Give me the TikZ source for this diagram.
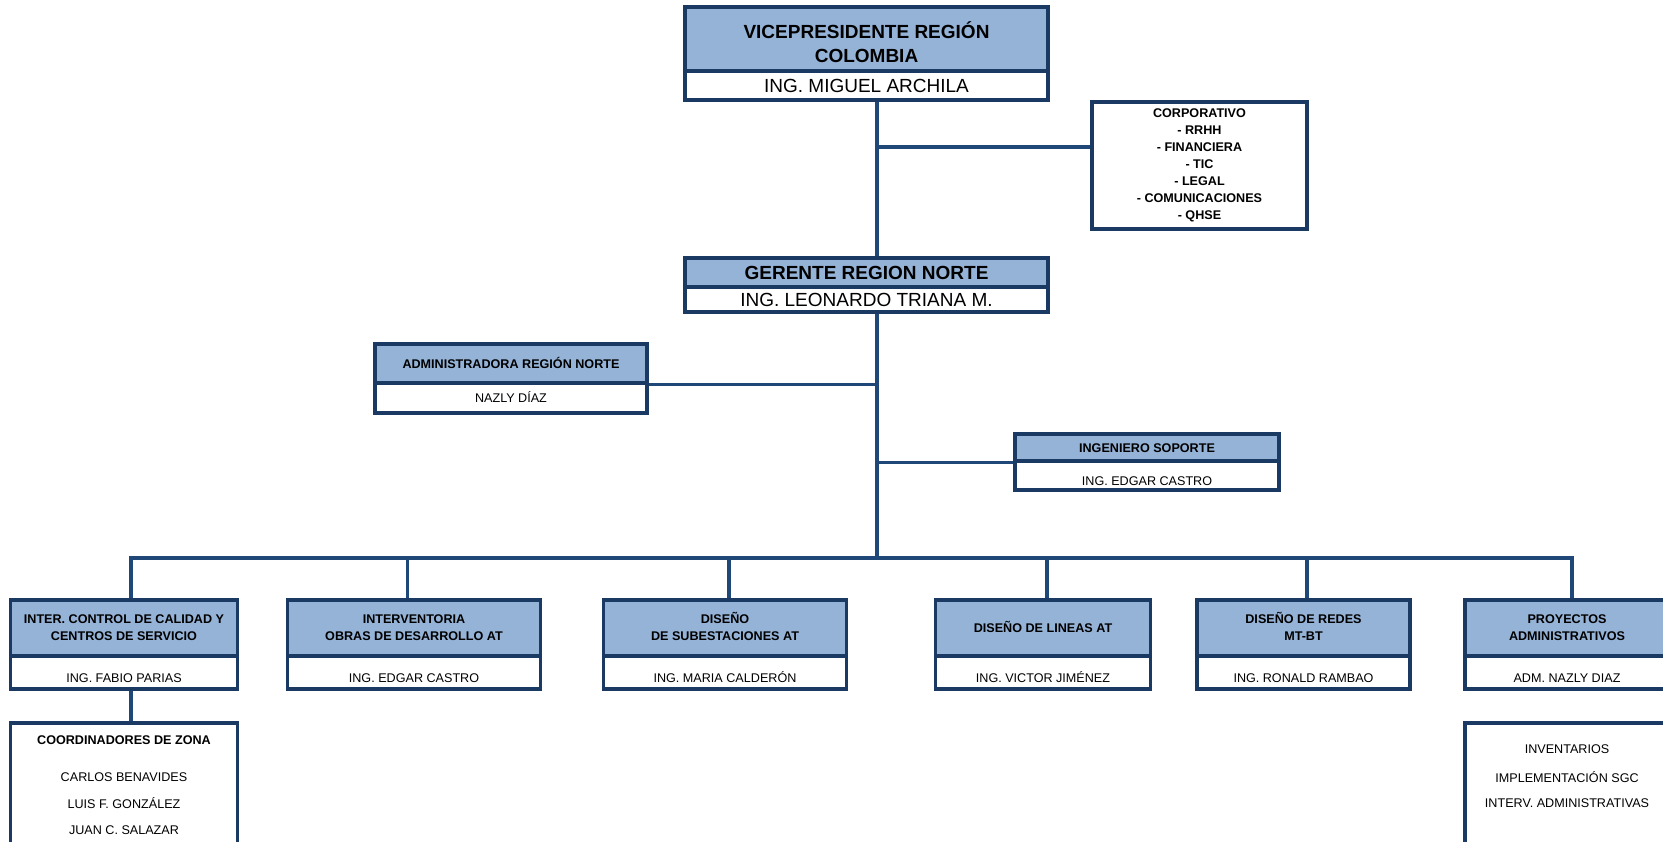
\documentclass[tikz,border=0pt]{standalone}
\usepackage{fontspec}
\setmainfont{Liberation Sans}
\definecolor{boxline}{HTML}{1A3A64}
\definecolor{linkline}{HTML}{1F4778}
\definecolor{headfill}{HTML}{95B3D7}
\tikzset{
  box/.style={draw=boxline, line width=3.2pt, inner sep=0pt, align=center},
  head/.style={box, fill=headfill},
  plain/.style={box, fill=white},
  bigr/.style={font=\fontsize{19}{24.4}\selectfont},
  bigb/.style={font=\bfseries\fontsize{19}{24.4}\selectfont},
  smr/.style={font=\fontsize{12.6}{17}\selectfont},
  smb/.style={font=\bfseries\fontsize{12.6}{17}\selectfont},
  capbig/.style={text height=13.6pt, text depth=0pt},
  capsm/.style={text height=9pt, text depth=0pt},
  lowsm/.style={text height=19pt, text depth=0pt},
  link/.style={draw=linkline, line width=3.2pt},
  txt/.style={inner sep=0pt, align=center},
}
\begin{document}
\begin{tikzpicture}[x=1pt,y=-1pt]
\clip (0,0) rectangle (1663,841);
\fill[white] (0,0) rectangle (1663,841);

% --- vice president
\node[head, minimum width=363pt, minimum height=64pt] (vph) at (866.5,39) {};
\node[txt, bigb] (vpt) at (866.5,44) {VICEPRESIDENTE REGI\smash{Ó}N\\COLOMBIA};
\node[plain, bigr, capbig, minimum width=363pt, minimum height=29pt] (vpn) at (866.5,85.5) {ING. MIGUEL ARCHILA};

% --- corporate services
\node[plain, smb, minimum width=215pt, minimum height=127pt] (corp) at (1199.5,165.5)
  {CORPORATIVO\\- RRHH\\- FINANCIERA\\- TIC\\- LEGAL\\- COMUNICACIONES\\- QHSE};

% --- regional manager
\node[head, bigb, capbig, minimum width=363pt, minimum height=29pt] (gh) at (866.5,272.5) {GERENTE REGION NORTE};
\node[plain, bigr, capbig, minimum width=363pt, minimum height=25pt] (gn) at (866.5,299.5) {ING. LEONARDO TRIANA M.};

% --- administration
\node[head, smb, capsm, minimum width=272pt, minimum height=39pt] (adh) at (511,363.5) {ADMINISTRADORA REGIÓN NORTE};
\node[plain, smr, capsm, minimum width=272pt, minimum height=30pt] (adn) at (511,398) {NAZLY DÍAZ};

% --- support engineer
\node[head, smb, capsm, minimum width=264pt, minimum height=27pt] (sph) at (1147,447.5) {INGENIERO SOPORTE};
\node[plain, smr, lowsm, minimum width=264pt, minimum height=29pt] (spn) at (1147,475.5) {ING. EDGAR CASTRO};

% --- departments
\node[head, smb, minimum width=227pt, minimum height=56pt] (b1h) at (124,628) {INTER. CONTROL DE CALIDAD Y\\CENTROS DE SERVICIO};
\node[plain, smr, lowsm, minimum width=227pt, minimum height=33pt] (b1n) at (124,672.5) {ING. FABIO PARIAS};

\node[head, smb, minimum width=253pt, minimum height=56pt] (b2h) at (414,628) {INTERVENTORIA\\OBRAS DE DESARROLLO AT};
\node[plain, smr, lowsm, minimum width=253pt, minimum height=33pt] (b2n) at (414,672.5) {ING. EDGAR CASTRO};

\node[head, smb, minimum width=243pt, minimum height=56pt] (b3h) at (725,628) {DISE\smash{Ñ}O\\DE SUBESTACIONES AT};
\node[plain, smr, lowsm, minimum width=243pt, minimum height=33pt] (b3n) at (725,672.5) {ING. MARIA CALDERÓN};

\node[head, smb, capsm, minimum width=215pt, minimum height=56pt] (b4h) at (1043,628) {DISEÑO DE LINEAS AT};
\node[plain, smr, lowsm, minimum width=215pt, minimum height=33pt] (b4n) at (1043,672.5) {ING. VICTOR JIMÉNEZ};

\node[head, smb, minimum width=213pt, minimum height=56pt] (b5h) at (1303.5,628) {DISE\smash{Ñ}O DE REDES\\MT-BT};
\node[plain, smr, lowsm, minimum width=213pt, minimum height=33pt] (b5n) at (1303.5,672.5) {ING. RONALD RAMBAO};

\node[head, smb, minimum width=204pt, minimum height=56pt] (b6h) at (1567,628) {PROYECTOS\\ADMINISTRATIVOS};
\node[plain, smr, lowsm, minimum width=204pt, minimum height=33pt] (b6n) at (1567,672.5) {ADM. NAZLY DIAZ};

% --- zone coordinators
\node[plain, minimum width=227pt, minimum height=160pt] (coord) at (124,803) {};
\node[txt, smb] (coordt) at (124,740) {COORDINADORES DE ZONA};
\node[txt, smr] (coord1) at (124,777.5) {CARLOS BENAVIDES};
\node[txt, smr] (coord2) at (124,803) {LUIS F. GONZÁLEZ};
\node[txt, smr] (coord3) at (124,830.5) {JUAN C. SALAZAR};

% --- administrative tasks
\node[plain, minimum width=204pt, minimum height=160pt] (tasks) at (1567,803) {};
\node[txt, smr] (task1) at (1567,749) {INVENTARIOS};
\node[txt, smr] (task2) at (1567,777.5) {IMPLEMENTACIÓN SGC};
\node[txt, smr] (task3) at (1567,803) {INTERV. ADMINISTRATIVAS};

% --- connectors
\coordinate (trunk) at (877,0);
\coordinate (corpj) at (877,147);
\coordinate (drop1) at (131,558);
\coordinate (drop2) at (407.5,558);
\coordinate (drop3) at (729,558);
\coordinate (drop4) at (1047,558);
\coordinate (drop5) at (1307,558);
\coordinate (drop6) at (1572,558);

\draw[link] (vpn.south -| trunk) -- (gh.north -| trunk);
\draw[link] (corpj) -- (corpj -| corp.west);
\draw[link] (gn.south -| trunk) -- (drop1 -| trunk);
\draw[link] (adh.south east) -- (adh.south -| trunk);
\draw[link] (sph.south west) -- (sph.south -| trunk);
\draw[link] (b1h.north -| drop1) -- (drop1) -- (drop6) -- (b6h.north -| drop6);
\draw[link] (drop2) -- (b2h.north -| drop2);
\draw[link] (drop3) -- (b3h.north -| drop3);
\draw[link] (drop4) -- (b4h.north -| drop4);
\draw[link] (drop5) -- (b5h.north -| drop5);
\draw[link] (b1n.south -| drop1) -- (coord.north -| drop1);
\end{tikzpicture}
\end{document}
